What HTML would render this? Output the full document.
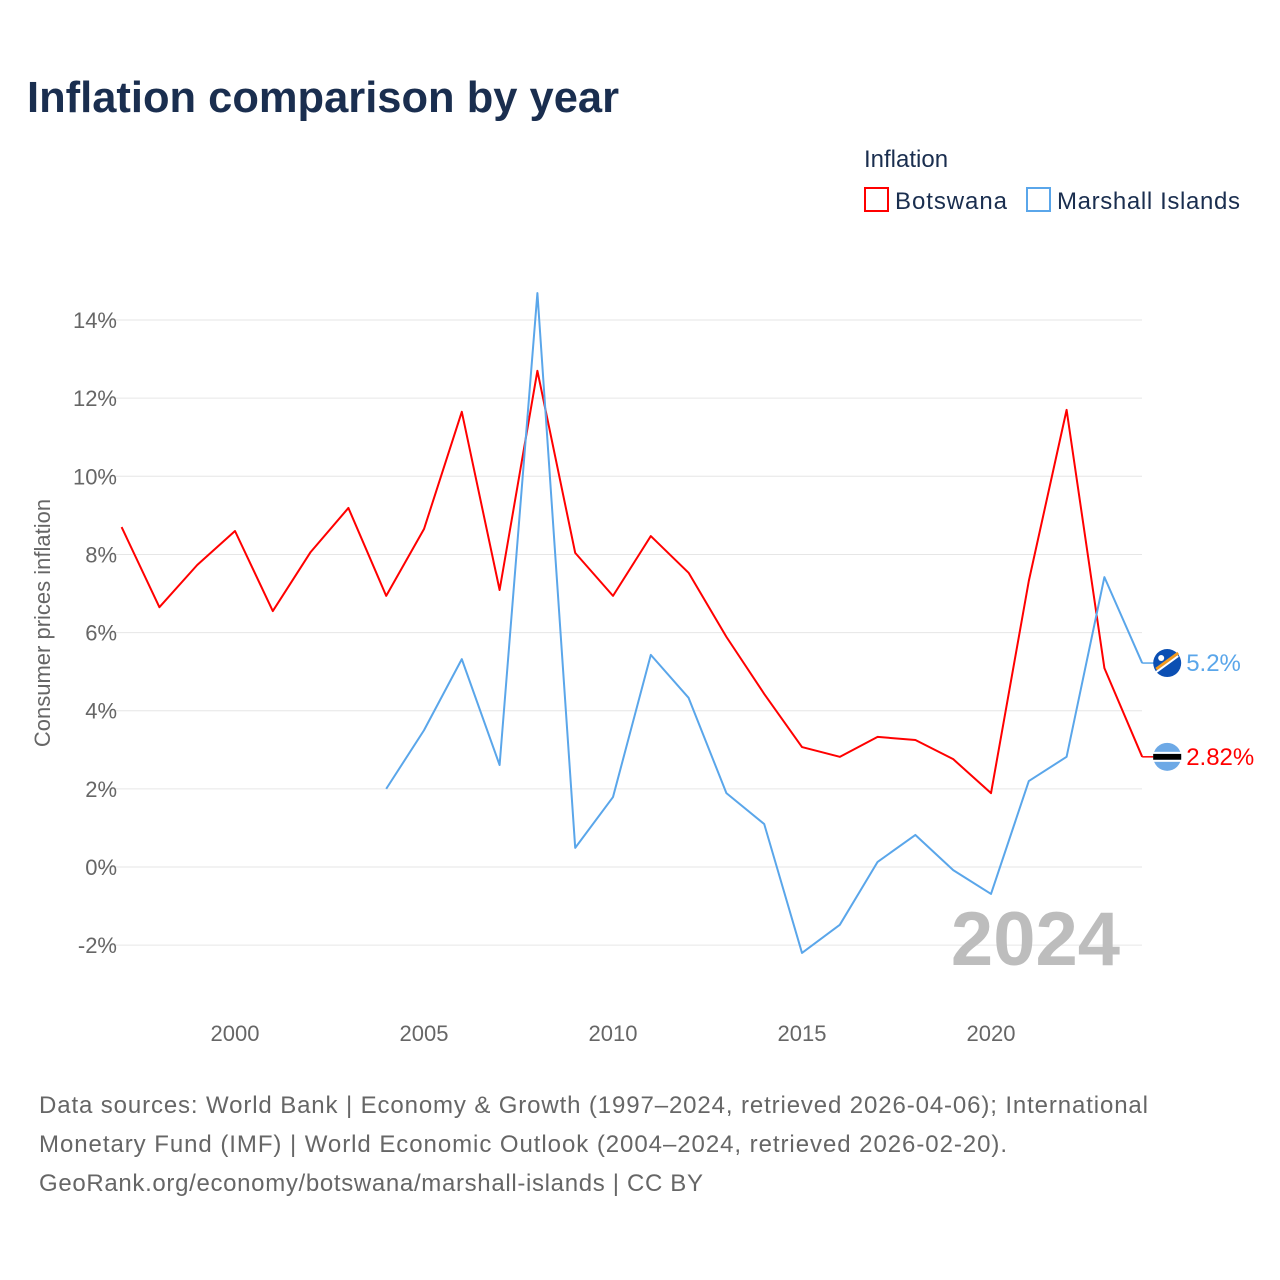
<!DOCTYPE html>
<html><head><meta charset="utf-8"><style>
body{margin:0;background:#fff;font-family:"Liberation Sans",sans-serif}
svg{display:block}
</style></head><body>
<svg width="1280" height="1280" id="c">
<text x="27" y="112" font-size="44" font-weight="bold" fill="#1a2e4f" textLength="592" lengthAdjust="spacingAndGlyphs">Inflation comparison by year</text>
<text x="864" y="167" font-size="24" fill="#1a2e4f">Inflation</text>
<g><rect x="865" y="188" width="23" height="23" fill="none" stroke="#f00" stroke-width="2"/><text x="895" y="209" font-size="24" fill="#1a2e4f" textLength="112">Botswana</text></g>
<g><rect x="1027" y="188" width="23" height="23" fill="none" stroke="#5aa6ea" stroke-width="2"/><text x="1057" y="209" font-size="24" fill="#1a2e4f" textLength="183">Marshall Islands</text></g>
<g id="grid"></g><g id="yt"></g><g id="xt"></g>
<text transform="translate(50,623) rotate(-90)" text-anchor="middle" font-size="22" fill="#666">Consumer prices inflation</text>
<text x="1120" y="965" text-anchor="end" font-size="76" font-weight="bold" fill="#bdbdbd">2024</text>
<g id="series"></g>
<g font-size="24" fill="#666">
<text x="39" y="1113" textLength="1109">Data sources: World Bank | Economy &amp; Growth (1997–2024, retrieved 2026-04-06); International</text>
<text x="39" y="1152" textLength="968">Monetary Fund (IMF) | World Economic Outlook (2004–2024, retrieved 2026-02-20).</text>
<text x="39" y="1191" textLength="664">GeoRank.org/economy/botswana/marshall-islands | CC BY</text>
</g>
</svg>
<script>
const bwYears=[1997,1998,1999,2000,2001,2002,2003,2004,2005,2006,2007,2008,2009,2010,2011,2012,2013,2014,2015,2016,2017,2018,2019,2020,2021,2022,2023,2024];
const bwValues=[8.70,6.65,7.73,8.6,6.55,8.06,9.19,6.94,8.65,11.65,7.09,12.7,8.04,6.94,8.47,7.53,5.89,4.43,3.07,2.82,3.33,3.25,2.76,1.89,7.32,11.7,5.09,2.82];
const mhYears=[2004,2005,2006,2007,2008,2009,2010,2011,2012,2013,2014,2015,2016,2017,2018,2019,2020,2021,2022,2023,2024];
const mhValues=[2.0,3.5,5.32,2.61,14.69,0.49,1.79,5.43,4.33,1.89,1.1,-2.2,-1.48,0.13,0.82,-0.08,-0.69,2.2,2.82,7.42,5.22];
const yTicks=[-2,0,2,4,6,8,10,12,14];
const xTicks=[2000,2005,2010,2015,2020];
const NS='http://www.w3.org/2000/svg';
const X=y=>235+(y-2000)*37.8, Y=v=>867-v*39.07;
function mk(t,a,p){const e=document.createElementNS(NS,t);for(const k in a)e.setAttribute(k,a[k]);p.appendChild(e);return e;}
const g=document.getElementById('grid'),yt=document.getElementById('yt'),xt=document.getElementById('xt'),s=document.getElementById('series');
yTicks.forEach(v=>{
 const l=mk('line',{x1:100,x2:1142,y1:Y(v),y2:Y(v),stroke:'#e6e6e6','stroke-width':1},g);
 
 
 const t=mk('text',{x:117,y:Y(v)+8,'text-anchor':'end','font-size':22,fill:'#666'},yt);t.textContent=v+'%';
 
 
});
xTicks.forEach(v=>{
 const t=mk('text',{x:X(v),y:1041,'text-anchor':'middle','font-size':22,fill:'#666'},xt);t.textContent=v;
 
 
});
function series(ys,vs,col,name,lab,flag){
 const p=mk('polyline',{points:ys.map((y,i)=>X(y)+','+Y(vs[i])).join(' '),fill:'none',stroke:col,'stroke-width':2,'stroke-linejoin':'round'},s);
 
 
 const last=vs[vs.length-1],ly=Y(last),lx=X(ys[ys.length-1]);
 mk('line',{x1:lx,x2:lx+14,y1:ly,y2:ly,stroke:col,'stroke-width':1.5},s);
 const gf=mk('g',{},s);
 
 
 mk('circle',{cx:lx+25,cy:ly,r:14,fill:flag},gf);
 if(name==='botswana'){mk('rect',{x:lx+11,y:ly-3,width:28,height:6,fill:'#000'},gf);mk('rect',{x:lx+11,y:ly-5,width:28,height:2,fill:'#fff'},gf);mk('rect',{x:lx+11,y:ly+3,width:28,height:2,fill:'#fff'},gf);}
 else{mk('path',{d:`M${lx+14} ${ly+6} L${lx+36} ${ly-10}`,stroke:'#f39a1e','stroke-width':3},gf);mk('path',{d:`M${lx+14} ${ly+9} L${lx+36} ${ly-7}`,stroke:'#fff','stroke-width':2},gf);mk('circle',{cx:lx+19,cy:ly-5,r:3,fill:'#fff'},gf);}
 const t=mk('text',{x:lx+44,y:ly+8,'font-size':24,fill:col},s);t.textContent=lab;
 
 
}
series(bwYears,bwValues,'#f00','botswana',bwValues[bwValues.length-1]+'%','#6da9e6');
series(mhYears,mhValues,'#5aa6ea','marshall-islands',mhValues[mhValues.length-1].toFixed(1)+'%','#0b4fb3');
</script>
</body></html>
